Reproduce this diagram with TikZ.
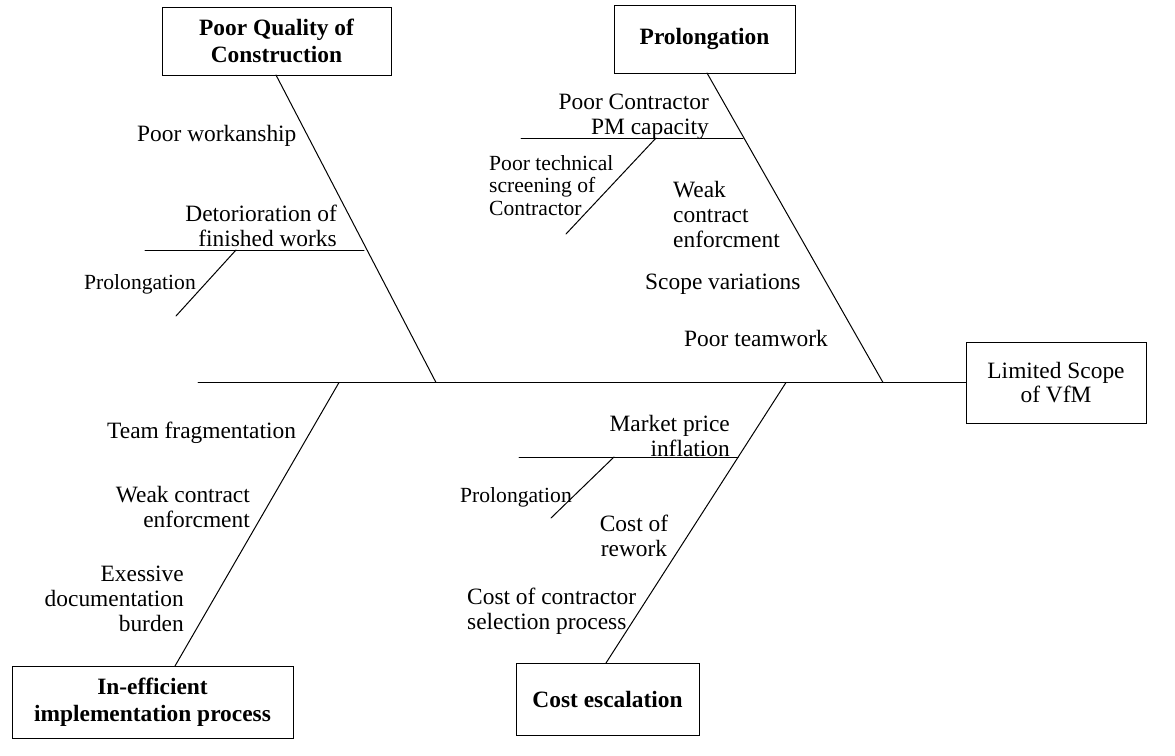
\documentclass[tikz,border=0pt]{standalone}
\usepackage{fontspec}
\setmainfont{Liberation Serif}
\begin{document}
\begin{tikzpicture}[x=1pt,y=-1pt,
  bone/.style={line width=1pt,line cap=round},
  lbl/.style={font=\fontsize{23.4}{25}\selectfont,inner sep=0pt,yshift=-2.5pt},
  slbl/.style={font=\fontsize{21.6}{22.5}\selectfont,inner sep=0pt,yshift=-2pt},
  hdr/.style={draw,line width=1pt,fill=white,inner sep=0pt,align=center,font=\fontsize{23.4}{26.5}\selectfont\bfseries},
  effbox/.style={draw,line width=1pt,fill=white,inner sep=0pt,align=center,font=\fontsize{23.4}{24.5}\selectfont}]
\useasboundingbox[fill=white] (0,0) rectangle (1175,755);

% boxes
\node[hdr,minimum width=229pt,minimum height=68pt] (pq) at (276.5,41) {Poor Quality of\\Construction};
\node[hdr,minimum width=181pt,minimum height=68pt] (prol) at (704.5,39) {Prolongation};
\node[hdr,minimum width=281pt,minimum height=72pt] (ie) at (152.5,702) {In-efficient\\implementation process};
\node[hdr,minimum width=183pt,minimum height=72pt] (ce) at (607.5,699) {Cost escalation};
\node[effbox,minimum width=180pt,minimum height=81pt] (eff) at (1056,382.5) {Limited Scope\\of VfM};

% coordinates of the skeleton
\coordinate (spL) at (198,382.5);
\coordinate (jTL) at (436,382.5);
\coordinate (jTR) at (883,382.5);
\coordinate (jBL) at (339,382.5);
\coordinate (jBR) at (786,382.5);
\coordinate (tTL) at (276,75);
\coordinate (tTR) at (707,73);
\coordinate (tBL) at (175,666);
\coordinate (tBR) at (606,663);

% spine and main bones
\draw[bone] (spL) -- (eff.west);
\draw[bone] (tTL) -- (jTL);
\draw[bone] (tTR) -- (jTR);
\draw[bone] (jBL) -- (tBL);
\draw[bone] (jBR) -- (tBR);

% sub bones
\coordinate (a1) at (145,250); \coordinate (a2) at (364,250);
\coordinate (a3) at (236,250); \coordinate (a4) at (176,316);
\draw[bone] (a1) -- (a2);
\draw[bone] (a3) -- (a4);

\coordinate (b1) at (521,138); \coordinate (b2) at (743,138);
\coordinate (b3) at (656,138); \coordinate (b4) at (566,234);
\draw[bone] (b1) -- (b2);
\draw[bone] (b3) -- (b4);

\coordinate (c1) at (519,457); \coordinate (c2) at (738,457);
\coordinate (c3) at (614,457); \coordinate (c4) at (551,518);
\draw[bone] (c1) -- (c2);
\draw[bone] (c3) -- (c4);

% labels
\node[lbl,anchor=west] (l1) at (137,133) {Poor workanship};
\node[lbl,anchor=east,align=right] (l2) at (337,223.5) {Detorioration of\\finished works};
\node[slbl,anchor=west] (l3) at (84,282) {Prolongation};
\node[lbl,anchor=east,align=right] (l4) at (709,114.5) {Poor Contractor\\PM capacity};
\node[slbl,anchor=west,align=left] (l5) at (489,183.5) {Poor technical\\screening of\\Contractor};
\node[lbl,anchor=west,align=left] (l6) at (673,211.5) {Weak\\contract\\enforcment};
\node[lbl,anchor=west] (l7) at (645,282) {Scope variations};
\node[lbl,anchor=west] (l8) at (684,336) {Poor teamwork};
\node[lbl,anchor=west] (l9) at (107,430) {Team fragmentation};
\node[lbl,anchor=east,align=right] (l10) at (250,504.5) {Weak contract\\enforcment};
\node[lbl,anchor=east,align=right] (l11) at (184,596) {Exessive\\documentation\\burden};
\node[lbl,anchor=east,align=right] (l12) at (730,433.5) {Market price\\inflation};
\node[slbl,anchor=west] (l13) at (460,495) {Prolongation};
\node[lbl,align=center] (l14) at (634,533) {Cost of\\rework};
\node[lbl,anchor=west,align=left] (l15) at (467,608.5) {Cost of contractor\\selection process};
\end{tikzpicture}
\end{document}
